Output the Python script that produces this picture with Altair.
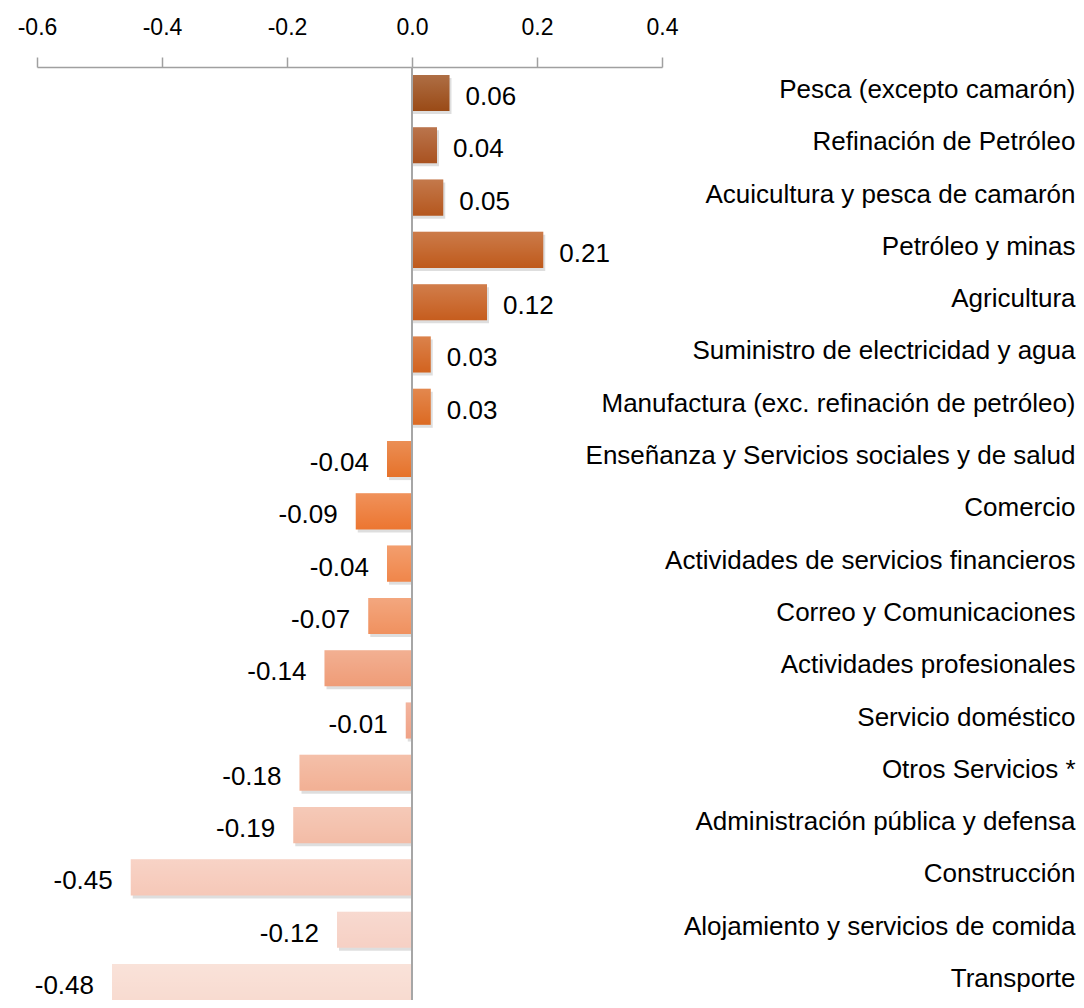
import altair as alt
import pandas as pd

categories = [
    "Pesca (excepto camarón)",
    "Refinación de Petróleo",
    "Acuicultura y pesca de camarón",
    "Petróleo y minas",
    "Agricultura",
    "Suministro de electricidad y agua",
    "Manufactura (exc. refinación de petróleo)",
    "Enseñanza  y Servicios sociales y de salud",
    "Comercio",
    "Actividades de servicios financieros",
    "Correo y Comunicaciones",
    "Actividades profesionales",
    "Servicio doméstico",
    "Otros Servicios *",
    "Administración pública y defensa",
    "Construcción",
    "Alojamiento y servicios de comida ",
    "Transporte",
]
values = [0.06, 0.04, 0.05, 0.21, 0.12, 0.03, 0.03, -0.04, -0.09, -0.04,
          -0.07, -0.14, -0.01, -0.18, -0.19, -0.45, -0.12, -0.48]
colors = [
    "#9a4a16", "#a95220", "#b5571e", "#bf5a1c", "#c65d1e", "#d2631f",
    "#dc6a22", "#e6722a", "#ec7631", "#f0864a", "#f0915f", "#ef9c77",
    "#f0a286", "#f2b094", "#f3bca6", "#f6c8b8", "#f6d0c4", "#f8dbd0",
]
tick_values = [-0.6, -0.4, -0.2, 0.0, 0.2, 0.4]

df = pd.DataFrame({
    "categoria": categories,
    "valor": values,
    "etiqueta": [f"{v:.2f}" for v in values],
})

FONT = "Liberation Sans, Arial, sans-serif"

x_enc = alt.X(
    "valor:Q",
    scale=alt.Scale(domain=[-0.6, 0.4], nice=False, zero=False),
    axis=alt.Axis(
        orient="top", values=tick_values, grid=False, title=None,
        offset=8, domainColor="#a0a0a0", domainWidth=1.5,
        tickColor="#a0a0a0", tickWidth=1.5, tickSize=10,
        labelFont=FONT, labelFontSize=23, labelColor="#000000",
        labelPadding=18, labelFlush=False, labelOverlap=False,
        labelExpr="replace(format(datum.value, '.1f'), '\u2212', '-')",
    ),
)
y_enc = alt.Y(
    "categoria:N", sort=categories,
    scale=alt.Scale(paddingInner=0.31, paddingOuter=0),
    axis=alt.Axis(
        orient="right", title=None, domain=False, ticks=False, tickSize=0,
        labelAlign="right", labelBaseline="middle", labelPadding=413,
        labelLimit=700, labelFont=FONT, labelFontSize=26,
        labelColor="#000000", labelOffset=-3,
    ),
)

base = alt.Chart(df).encode(x=x_enc, y=y_enc)

shadow = base.mark_bar(color="#000000", opacity=0.13, xOffset=2, yOffset=3).encode(
    x2=alt.datum(0)
)
bars = base.mark_bar().encode(
    x2=alt.datum(0),
    color=alt.Color("categoria:N", scale=alt.Scale(domain=categories, range=colors), legend=None),
)
gloss = base.mark_bar(
    color=alt.Gradient(
        gradient="linear", x1=0, y1=0, x2=0, y2=1,
        stops=[
            alt.GradientStop(offset=0, color="rgba(255,255,255,0.2)"),
            alt.GradientStop(offset=1, color="rgba(255,255,255,0)"),
        ],
    )
).encode(x2=alt.datum(0))

pos_text = base.transform_filter("datum.valor >= 0").mark_text(
    align="left", baseline="middle", dx=16, dy=4,
    font=FONT, fontSize=26, color="#000000",
).encode(text="etiqueta:N")
neg_text = base.transform_filter("datum.valor < 0").mark_text(
    align="right", baseline="middle", dx=-18, dy=4,
    font=FONT, fontSize=26, color="#000000",
).encode(text="etiqueta:N")

zero_rule = alt.Chart(df).mark_rule(color="#a6a6a6", strokeWidth=2).encode(
    x=alt.datum(0),
    y=alt.value(-8),
    y2=alt.value(925),
)

chart = alt.layer(shadow, bars, gloss, zero_rule, pos_text, neg_text).properties(
    width=625,
    height=925,
    background="#ffffff",
    padding={"left": 29, "top": 67, "right": 414, "bottom": 0},
    autosize=alt.AutoSizeParams(type="none"),
).configure_view(strokeWidth=0, stroke="transparent")

chart.save("out.html", embed_options={"renderer": "svg", "actions": False})
